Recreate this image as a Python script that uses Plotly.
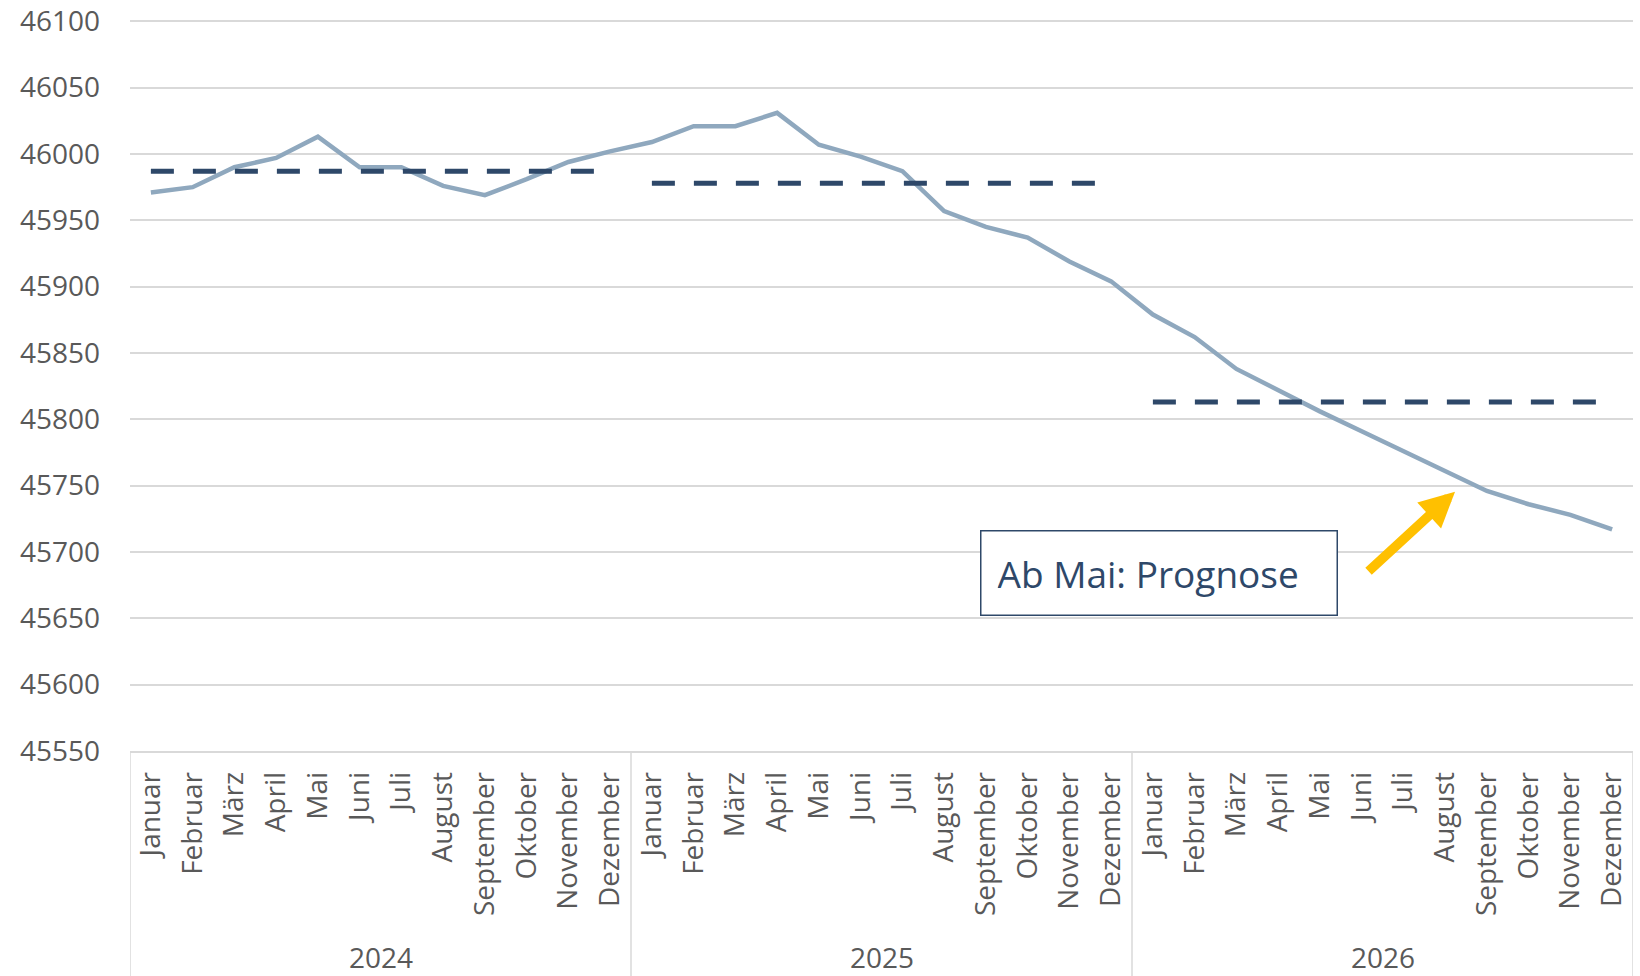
import plotly.graph_objects as go

years = ["2024", "2025", "2026"]
months = ["Januar", "Februar", "März", "April", "Mai", "Juni", "Juli",
          "August", "September", "Oktober", "November", "Dezember"]

values_2024 = [45971, 45975, 45990, 45997, 46013, 45990, 45990, 45976, 45969, 45981, 45994, 46002]
values_2025 = [46009, 46021, 46021, 46031, 46007, 45998, 45987, 45957, 45945, 45937, 45919, 45904]
values_2026 = [45879, 45862, 45838, 45822, 45806, 45791, 45776, 45761, 45746, 45736, 45728, 45717]

avg_2024 = 45987
avg_2025 = 45978
avg_2026 = 45813

y_tickvals = [45550, 45600, 45650, 45700, 45750, 45800, 45850, 45900, 45950, 46000, 46050, 46100]

annotation_text = "Ab Mai: Prognose"

LINE_COLOR = "#8FA8BE"
DASH_COLOR = "#2E4869"
GRID_COLOR = "#D9D9D9"
TEXT_COLOR = "#595959"
ARROW_COLOR = "#FFC000"
FONT = "Open Sans"

n_m = len(months)
values = values_2024 + values_2025 + values_2026
x_idx = list(range(len(values)))          # category positions along the axis
tick_text = months * len(years)

fig = go.Figure()
fig.add_trace(go.Scatter(
    x=x_idx, y=values, mode="lines",
    line=dict(color=LINE_COLOR, width=4.5),
    showlegend=False, hoverinfo="skip",
))
for k, avg in enumerate([avg_2024, avg_2025, avg_2026]):
    fig.add_trace(go.Scatter(
        x=x_idx[k * n_m:(k + 1) * n_m], y=[avg] * n_m, mode="lines",
        line=dict(color=DASH_COLOR, width=5, dash="23px,19px"),
        showlegend=False, hoverinfo="skip",
    ))

# year group dividers and labels below the axis
for k in range(len(years) + 1):
    pos = k * n_m - 0.5
    fig.add_shape(type="line", xref="x", yref="paper", x0=pos, x1=pos,
                  y0=0, y1=-0.32, line=dict(color=GRID_COLOR, width=1.5))
for k, yr in enumerate(years):
    fig.add_annotation(
        xref="x", yref="paper", x=k * n_m + (n_m - 1) / 2, y=-0.2822,
        text=yr, showarrow=False, xanchor="center", yanchor="middle",
        borderpad=0,
        font=dict(family=FONT, size=28, color=TEXT_COLOR),
    )

fig.add_annotation(
    xref="paper", yref="paper", x=0.6846, y=0.2431,
    xanchor="center", yanchor="middle",
    text=annotation_text, showarrow=False,
    font=dict(family=FONT, size=37, color=DASH_COLOR),
    align="left", width=323, height=51, valign="middle",
    bordercolor=DASH_COLOR, borderwidth=1.5, borderpad=16, bgcolor="white",
)
fig.add_annotation(
    xref="paper", yref="paper", x=0.8816, y=0.3548,
    text="", showarrow=True, arrowhead=2, arrowsize=0.74, arrowwidth=9.5,
    arrowcolor=ARROW_COLOR, ax=-88, ay=81, standoff=0, startstandoff=0,
)

fig.update_layout(
    width=1640, height=976,
    margin=dict(l=130, r=7, t=20, b=225, autoexpand=False),
    plot_bgcolor="white", paper_bgcolor="white",
    font=dict(family=FONT, color=TEXT_COLOR),
)
fig.update_yaxes(
    range=[45550, 46101], tickvals=y_tickvals, tickformat="d",
    showgrid=True, gridcolor=GRID_COLOR, gridwidth=1.5,
    zeroline=False, showline=False, ticks="", automargin=False,
    tickfont=dict(family=FONT, size=28, color=TEXT_COLOR),
    ticklabelstandoff=29, ticklabeloverflow="allow",
)
fig.update_xaxes(
    range=[-0.5, len(values) - 0.5], showgrid=False, zeroline=False,
    showline=True, linecolor=GRID_COLOR, linewidth=1.5,
    tickmode="array", tickvals=x_idx, ticktext=tick_text,
    ticks="", tickangle=-90, automargin=False,
    tickfont=dict(family=FONT, size=28, color=TEXT_COLOR),
    ticklabelstandoff=8,
)

fig.write_html("out.html", config={"displayModeBar": False},
               post_script="document.body.style.margin='0';")
